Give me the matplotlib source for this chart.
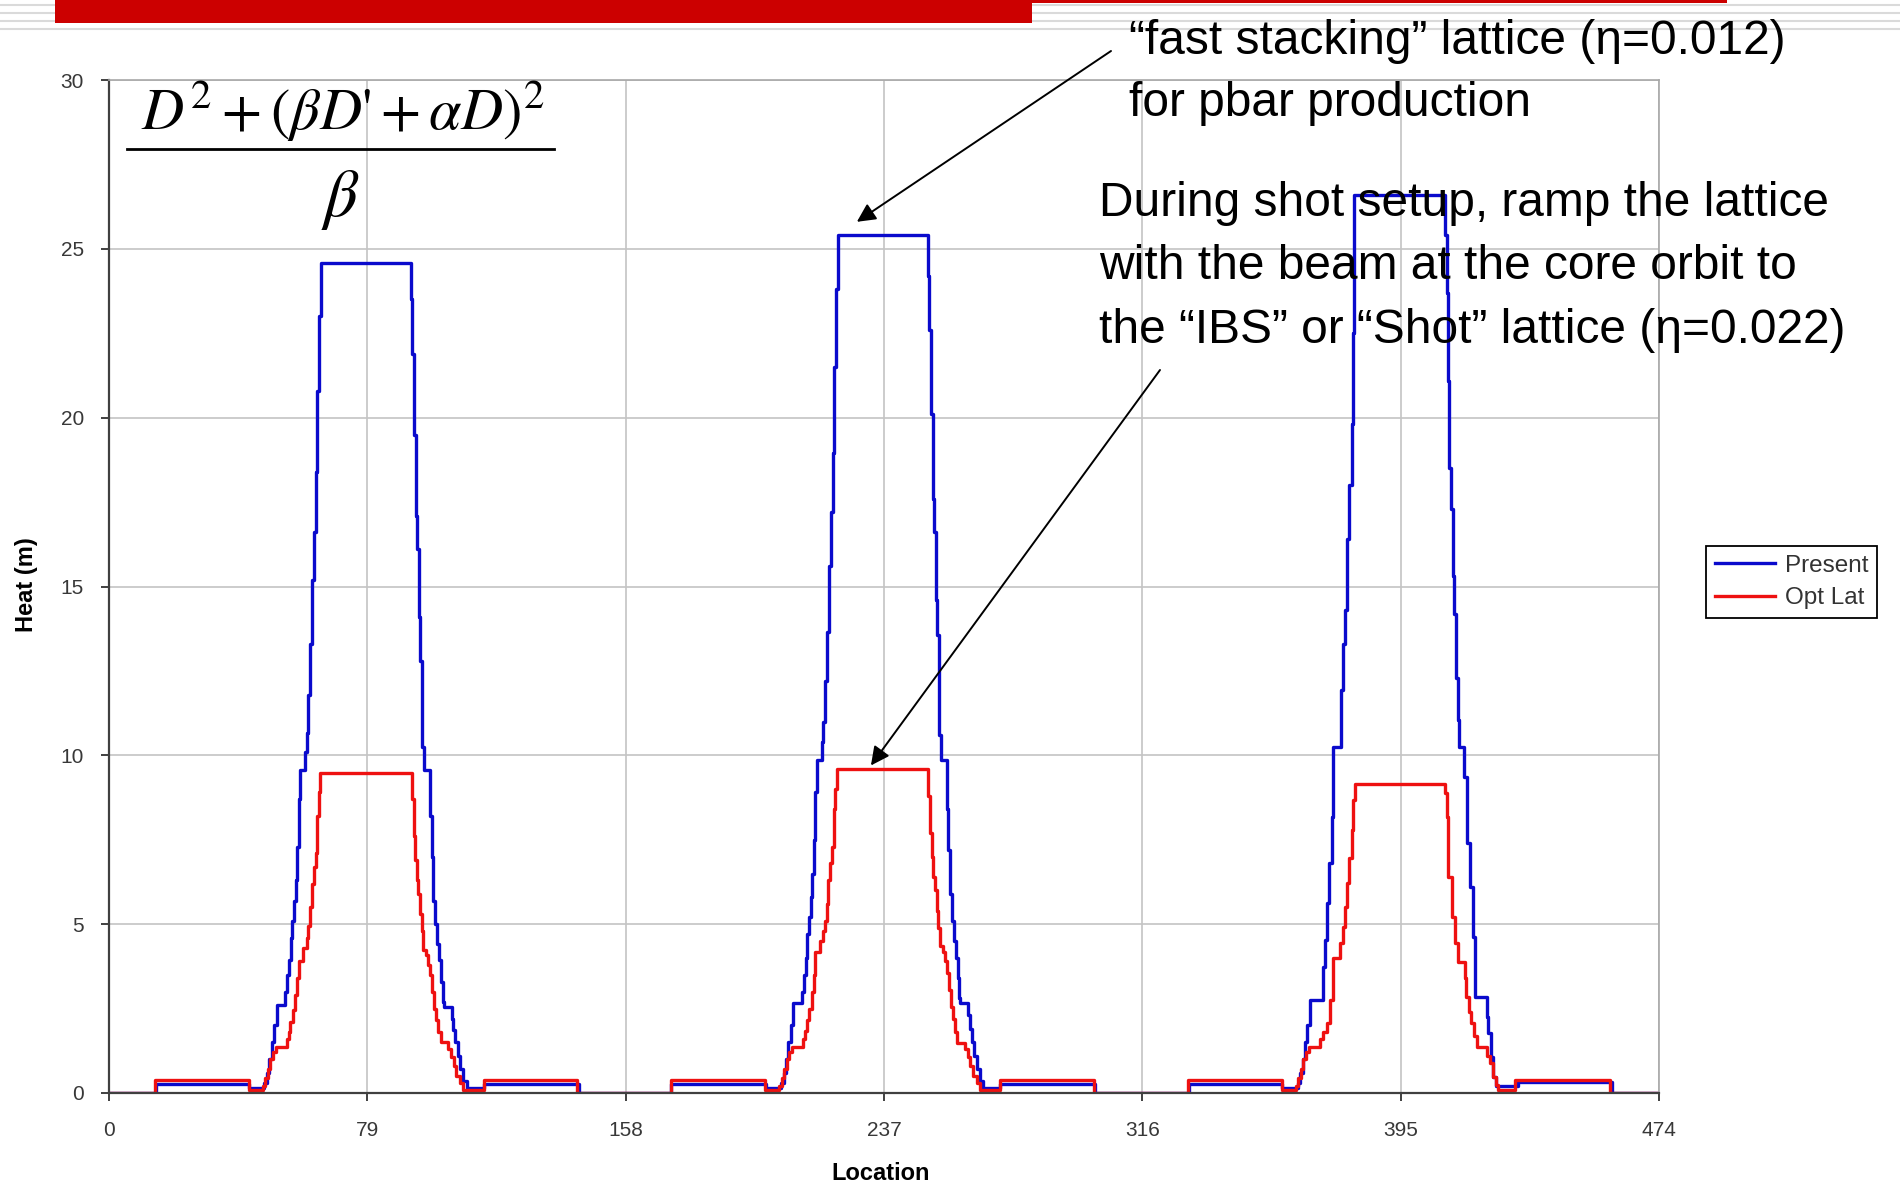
import numpy as np
import matplotlib.pyplot as plt
from matplotlib.lines import Line2D
from matplotlib.patches import Rectangle

plt.rcParams['font.family'] = ['Liberation Sans', 'DejaVu Sans']
plt.rcParams['mathtext.fontset'] = 'stix'

# (location, heat) break points, each value holds until the next location
present_pts = [
    # first period
    (0, 0), (14.3, 0.28), (42.8, 0.15), (47.5, 0.3), (48.3, 0.6), (49.0, 1.0), (49.7, 1.5),
    (50.5, 2.0), (51.3, 2.6), (53.8, 3.0), (54.5, 3.5), (55.0, 3.95), (55.6, 4.6), (56.1, 5.1),
    (56.6, 5.7), (57.1, 6.3), (57.5, 7.3), (58.0, 8.7), (58.5, 9.56), (59.9, 10.1), (60.4, 10.65),
    (60.9, 11.8), (61.5, 13.3), (62.0, 15.2), (62.7, 16.6), (63.3, 18.4), (63.7, 20.8), (64.2, 23.0),
    (64.8, 24.57), (92.4, 23.5), (92.8, 21.9), (93.3, 19.5), (93.8, 17.1), (94.2, 16.1), (94.7, 14.1),
    (95.2, 12.8), (95.6, 10.25), (96.3, 9.56), (98.2, 8.2), (98.7, 7.0), (99.2, 5.7), (99.8, 5.0),
    (100.4, 4.4), (100.9, 3.94), (101.5, 3.3), (102.0, 2.7), (102.3, 2.56), (104.8, 2.2), (105.3, 1.87),
    (105.9, 1.5), (106.6, 1.1), (107.3, 0.7), (108.3, 0.35), (109.4, 0.15), (114.6, 0.28), (143.6, 0),
    # second period
    (172.0, 0.28), (200.8, 0.15), (205.5, 0.3), (206.3, 0.6), (207.0, 1.0), (207.7, 1.5), (208.5, 2.0),
    (209.3, 2.66), (211.8, 3.0), (212.5, 3.5), (213.0, 4.0), (213.6, 4.7), (214.1, 5.2), (214.6, 5.8),
    (215.1, 6.5), (215.5, 7.5), (216.0, 8.9), (216.5, 9.86), (217.9, 10.4), (218.4, 11.0), (218.9, 12.2),
    (219.5, 13.65), (220.2, 15.6), (220.8, 17.2), (221.3, 18.95), (221.8, 21.5), (222.4, 23.8),
    (223.0, 25.4), (250.4, 24.2), (250.9, 22.6), (251.4, 20.1), (251.9, 17.6), (252.4, 16.6),
    (252.8, 14.6), (253.3, 13.56), (253.8, 10.6), (254.4, 9.86), (256.2, 8.4), (256.7, 7.2), (257.2, 5.9),
    (257.8, 5.1), (258.4, 4.5), (258.9, 4.0), (259.5, 3.4), (260.0, 2.8), (260.3, 2.66), (262.8, 2.3),
    (263.3, 1.9), (263.9, 1.5), (264.6, 1.1), (265.3, 0.7), (266.3, 0.35), (267.4, 0.15), (272.6, 0.28),
    (301.6, 0),
    # third period
    (330.3, 0.28), (358.8, 0.15), (363.5, 0.3), (364.3, 0.6), (365.0, 1.0), (365.7, 1.5), (366.5, 2.0),
    (367.3, 2.75), (371.1, 3.74), (371.9, 4.53), (372.6, 5.62), (373.2, 6.8), (373.9, 8.18),
    (374.4, 10.25), (376.7, 11.93), (377.5, 13.3), (378.0, 14.3), (378.5, 16.4), (379.3, 18.0),
    (380.0, 19.8), (380.5, 22.5), (380.8, 26.6), (408.6, 25.4), (409.1, 23.7), (409.4, 21.1),
    (409.8, 18.5), (410.4, 17.3), (410.9, 15.3), (411.4, 14.2), (411.9, 12.28), (412.4, 11.05),
    (412.9, 10.25), (414.4, 9.37), (415.2, 7.39), (416.2, 6.11), (417.0, 4.63), (417.7, 2.85),
    (421.3, 2.26), (421.8, 1.77), (422.5, 1.07), (423.3, 0.48), (424.2, 0.2), (431.0, 0.33),
    (459.6, 0), (474, 0),
]

optlat_pts = [
    # first period
    (0, 0), (14.0, 0.38), (42.7, 0.08), (47.0, 0.2), (47.7, 0.45), (48.5, 0.7), (49.2, 1.0),
    (50.0, 1.2), (51.0, 1.37), (54.3, 1.6), (54.9, 1.8), (55.5, 2.1), (56.2, 2.46), (56.9, 2.9),
    (57.5, 3.4), (58.0, 3.9), (59.4, 4.3), (60.4, 4.6), (61.0, 4.95), (61.5, 5.5), (62.0, 6.2),
    (62.6, 6.7), (63.2, 7.1), (63.6, 8.2), (64.1, 8.9), (64.6, 9.47), (92.6, 8.7), (93.2, 7.6),
    (93.6, 6.9), (94.1, 6.3), (94.6, 5.9), (95.1, 5.3), (95.6, 4.8), (96.1, 4.23), (96.9, 4.1),
    (97.6, 3.8), (98.2, 3.5), (98.8, 3.0), (99.5, 2.5), (100.0, 2.16), (100.6, 1.8), (101.4, 1.5),
    (103.8, 1.3), (104.6, 1.07), (105.4, 0.8), (106.2, 0.5), (107.3, 0.3), (108.4, 0.08), (114.6, 0.38),
    (143.1, 0),
    # second period
    (172.0, 0.38), (200.7, 0.08), (205.0, 0.2), (205.7, 0.45), (206.5, 0.7), (207.2, 1.0), (208.0, 1.2),
    (209.0, 1.37), (212.3, 1.6), (212.9, 1.85), (213.5, 2.15), (214.2, 2.5), (214.9, 3.0), (215.5, 3.5),
    (216.0, 4.17), (217.4, 4.5), (218.4, 4.8), (219.0, 5.1), (219.5, 5.6), (220.0, 6.3), (220.6, 6.8),
    (221.2, 7.3), (221.6, 8.4), (222.1, 9.0), (222.6, 9.61), (250.6, 8.8), (251.2, 7.7), (251.6, 7.0),
    (252.1, 6.4), (252.6, 6.0), (253.1, 5.4), (253.6, 4.9), (254.1, 4.35), (254.9, 4.17), (255.6, 3.9),
    (256.2, 3.55), (256.8, 3.05), (257.5, 2.55), (258.0, 2.2), (258.6, 1.8), (259.4, 1.47), (261.8, 1.3),
    (262.6, 1.07), (263.4, 0.8), (264.2, 0.5), (265.3, 0.3), (266.4, 0.08), (272.6, 0.38), (301.1, 0),
    # third period
    (330.0, 0.38), (358.7, 0.08), (363.0, 0.2), (363.7, 0.45), (364.5, 0.7), (365.2, 1.0), (366.0, 1.2),
    (367.0, 1.37), (370.3, 1.6), (371.3, 1.8), (372.4, 2.06), (373.4, 2.75), (374.4, 3.99),
    (376.6, 4.43), (377.3, 4.93), (378.0, 5.52), (378.7, 6.21), (379.3, 6.95), (380.0, 7.79),
    (380.5, 8.68), (381.0, 9.15), (408.6, 8.87), (409.1, 8.18), (409.6, 6.4), (410.6, 5.22),
    (411.6, 4.43), (412.4, 3.89), (414.6, 3.4), (415.1, 2.85), (416.0, 2.4), (416.6, 2.06),
    (417.4, 1.7), (418.2, 1.37), (421.3, 1.1), (422.3, 0.88), (423.3, 0.48), (424.3, 0.25),
    (424.9, 0.09), (430.0, 0.38), (459.1, 0), (474, 0),
]

series_names = ['Present', 'Opt Lat']
x_ticks = [0, 79, 158, 237, 316, 395, 474]
y_ticks = [0, 5, 10, 15, 20, 25, 30]

W, H = 1900, 1186
fig = plt.figure(figsize=(W / 100, H / 100), dpi=100)

# slide decoration at the top
for yy in [5, 13, 21, 29]:
    fig.add_artist(Line2D([0, 1], [1 - yy / H, 1 - yy / H], color='#DADADA', lw=1.5, zorder=1))
fig.add_artist(Rectangle((55 / W, 1 - 23 / H), (1032 - 55) / W, 23 / H, color='#CC0000', lw=0, zorder=3))
fig.add_artist(Rectangle((1032 / W, 1 - 3 / H), (1727 - 1032) / W, 3 / H, color='#CC0000', lw=0, zorder=3))

ax = fig.add_axes([109 / W, 93 / H, 1550 / W, 1013 / H])

x1, y1 = zip(*present_pts)
x2, y2 = zip(*optlat_pts)
ax.plot(x1, y1, drawstyle='steps-post', color='#0A0ACC', lw=2.4, label=series_names[0])
ax.plot(x2, y2, drawstyle='steps-post', color='#EE1111', lw=2.4, label=series_names[1])

ax.set_xlim(0, 474)
ax.set_ylim(0, 30)
ax.set_xticks(x_ticks)
ax.set_yticks(y_ticks)
ax.grid(True, color='#C4C4C4', lw=1.2)
ax.set_axisbelow(True)
for s in ['top', 'right']:
    ax.spines[s].set_color('#A8A8A8')
    ax.spines[s].set_linewidth(1.2)
for s in ['left', 'bottom']:
    ax.spines[s].set_color('#404040')
    ax.spines[s].set_linewidth(1.6)
ax.tick_params(axis='both', direction='out', length=6, width=1.4, color='#404040',
               labelsize=15, labelcolor='#383838')
ax.tick_params(axis='x', pad=14)
ax.tick_params(axis='y', pad=12)

fig.text(27 / W, 1 - 585 / H, 'Heat (m)', rotation=90, ha='center', va='center',
         fontsize=17, fontweight='bold')
fig.text(881 / W, 1 - 1174 / H, 'Location', ha='center', va='center',
         fontsize=17, fontweight='bold')

leg = ax.legend(loc='upper left', bbox_to_anchor=(1706 / W, 1 - 546 / H),
                bbox_transform=fig.transFigure, fancybox=False, edgecolor='black',
                framealpha=1, fontsize=17.5, handlelength=2.5, handletextpad=0.4,
                borderpad=0.35, labelspacing=0.45, borderaxespad=0)
leg.get_frame().set_linewidth(1.3)
for t in leg.get_texts():
    t.set_color('#333333')

# formula in the corner
fig.text(343 / W, 1 - 130 / H, r"$D^2+\left(\beta D\text{'}+\alpha D\right)^2$",
         ha='center', va='baseline', fontsize=42)
fig.add_artist(Line2D([127 / W, 554 / W], [1 - 149 / H, 1 - 149 / H], color='black', lw=2))
fig.text(340 / W, 1 - 216 / H, r'$\beta$', ha='center', va='baseline', fontsize=48)

# notes and arrows
notes = [
    (1129, 54, '\u201cfast stacking\u201d lattice (\u03b7=0.012)'),
    (1129, 116, 'for pbar production'),
    (1099, 216, 'During shot setup, ramp the lattice'),
    (1099, 279, 'with the beam at the core orbit to'),
    (1099, 343, 'the \u201cIBS\u201d or \u201cShot\u201d lattice (\u03b7=0.022)'),
]
for nx, ny, txt in notes:
    fig.text(nx / W, 1 - ny / H, txt, ha='left', va='baseline', fontsize=34.5, color='black')

ax.annotate('', xy=(228.7, 25.8), xycoords='data',
            xytext=(1111 / W, 1 - 51 / H), textcoords='figure fraction',
            arrowprops=dict(arrowstyle='-|>', color='black', lw=1.4, mutation_scale=28,
                            shrinkA=0, shrinkB=0))
ax.annotate('', xy=(233.0, 9.7), xycoords='data',
            xytext=(1160 / W, 1 - 370 / H), textcoords='figure fraction',
            arrowprops=dict(arrowstyle='-|>', color='black', lw=1.4, mutation_scale=28,
                            shrinkA=0, shrinkB=0))

fig.savefig('out.png', dpi=100)
